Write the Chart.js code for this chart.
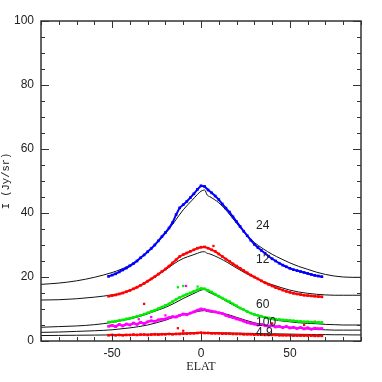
<!DOCTYPE html>
<html lang="en">
<head>
<meta charset="UTF-8">
<title>ELAT profiles</title>
<script src="https://cdn.jsdelivr.net/npm/chart.js@4"></script>
<style>
    html, body { margin: 0; padding: 0; background: #fff; }
    #wrap { width: 382px; height: 382px; }
</style>
</head>
<body>
<div id="wrap"><canvas id="chart"></canvas></div>
<script>
    // observed profiles, 2 deg bins in ecliptic latitude
    const obsElat = [-52,-50,-48,-46,-44,-42,-40,-38,-36,-34,-32,-30,-28,-26,-24,-22,-20,-18,-16,-14,-12,-10,-8,-6,-4,-2,
                     0,2,4,6,8,10,12,14,16,18,20,22,24,26,28,30,32,34,36,38,40,42,44,46,48,50,52,54,56,58,60,62,64,66,68];
    const obs24 = [20.2,20.6,21.0,21.6,22.2,22.8,23.5,24.2,25.0,26.0,26.9,27.9,28.9,30.0,31.3,32.6,33.9,35.3,37.0,39.5,41.6,42.6,43.6,44.8,46.0,47.4,
                   48.5,48.3,47.2,46.3,45.3,44.2,42.8,41.5,40.3,38.8,37.3,35.8,34.3,32.9,31.5,30.2,29.2,28.3,27.4,26.5,25.7,25.0,24.3,23.7,23.2,22.7,22.3,22.0,21.7,21.4,21.1,20.8,20.5,20.3,20.1];
    const obs12 = [14.0,14.2,14.4,14.7,15.0,15.4,15.8,16.3,16.8,17.4,18.0,18.7,19.4,20.1,20.9,21.7,22.5,23.4,24.4,25.4,26.4,27.0,27.5,28.0,28.5,29.0,
                   29.3,29.4,29.0,28.5,28.0,27.2,26.4,25.6,24.9,24.1,23.4,22.7,22.0,21.3,20.6,20.0,19.4,18.8,18.2,17.7,17.2,16.7,16.3,15.9,15.5,15.2,14.9,14.7,14.5,14.3,14.2,14.1,14.0,13.9,13.8];
    const obs60 = [5.9,6.0,6.2,6.4,6.6,6.9,7.1,7.4,7.7,8.0,8.4,8.8,9.2,9.6,10.1,10.6,11.1,11.6,12.3,13.0,13.6,14.1,14.6,15.0,15.5,16.0,
                   16.4,16.3,15.8,15.3,14.6,14.0,13.4,12.8,12.3,11.6,11.0,10.3,9.8,9.2,8.7,8.3,8.0,7.7,7.4,7.2,7.0,6.8,6.7,6.6,6.5,6.4,6.3,6.2,6.1,6.0,6.0,5.9,5.9,5.8,5.8];
    const obs100 = [4.6,4.9,4.5,5.2,4.7,5.3,5.0,5.6,5.2,5.8,5.4,6.0,6.3,6.1,6.6,6.8,6.9,7.3,7.6,7.5,8.0,8.4,8.2,8.7,9.1,9.6,
                    10.0,9.8,9.5,9.3,9.1,8.8,8.6,8.0,7.6,7.3,6.9,6.6,6.2,5.8,5.5,5.3,5.0,5.2,4.8,4.6,4.9,4.4,4.6,4.2,4.5,4.1,4.3,3.9,4.2,3.8,4.1,3.7,4.0,3.8,3.9];
    const obs49 = [1.8,1.9,1.8,1.9,1.8,1.9,1.9,2.0,1.9,2.0,2.0,1.9,2.0,2.1,2.0,2.1,2.1,2.2,2.1,2.2,2.2,2.3,2.3,2.4,2.4,2.5,
                   2.6,2.5,2.5,2.4,2.4,2.4,2.3,2.3,2.3,2.2,2.2,2.2,2.1,2.1,2.1,2.0,2.0,2.0,1.9,1.9,1.9,1.9,1.8,1.8,1.8,1.8,1.7,1.7,1.7,1.7,1.7,1.7,1.6,1.6,1.6];

    // stray points off the bands
    const strayRedElat = [-48,-32,-13,7,40,64,-10,58];
    const strayRedI = [4.5,11.6,4.0,29.7,5.5,6.0,3.2,5.0];
    const strayMagElat = [-8.4,-35,-28,-20];
    const strayMagI = [17.2,6.8,7.5,8.0];
    const strayGreenElat = [-13,-10,-1.9];
    const strayGreenI = [16.8,17.2,17.0];

    // model curves
    const modelElat = [-90,-80,-70,-60,-50,-45,-40,-35,-30,-25,-20,-15,-10,-5,-2,0,2,3.5,5,10,15,20,25,30,35,40,45,50,55,60,65,70,75,80,85,90];
    const model24 = [17.7,18.1,18.8,19.9,21.4,22.4,23.7,25.6,27.8,30.5,33.6,37.2,41.0,44.0,45.8,46.8,47.2,45.6,45.1,43.2,40.3,36.8,33.5,30.8,28.8,27.1,25.7,24.4,23.3,22.4,21.5,20.8,20.3,20.0,19.9,19.9];
    const model12 = [12.8,12.9,13.2,13.7,14.4,14.9,15.8,17.0,18.5,20.3,22.2,24.2,25.8,26.8,27.4,27.8,27.9,27.4,27.2,26.0,24.5,22.8,21.2,19.8,18.6,17.6,16.7,15.9,15.3,14.9,14.6,14.4,14.3,14.3,14.3,14.3];
    const model60 = [4.3,4.5,4.7,5.1,5.8,6.3,6.9,7.6,8.5,9.5,10.5,11.8,13.3,14.6,15.4,15.9,16.1,15.5,15.1,13.8,12.2,10.7,9.4,8.3,7.4,6.7,6.3,6.0,5.7,5.5,5.4,5.2,5.1,5.0,5.0,5.0];
    const model100 = [2.7,2.8,3.0,3.2,3.5,3.8,4.1,4.5,5.0,5.7,6.5,7.5,8.3,8.8,9.2,9.4,9.5,9.2,9.1,8.8,8.3,7.4,6.5,5.7,5.1,4.7,4.4,4.2,4.0,3.8,3.6,3.5,3.4,3.4,3.4,3.4];
    const model49 = [1.7,1.75,1.8,1.85,1.9,1.95,2.0,2.05,2.1,2.2,2.25,2.35,2.45,2.55,2.6,2.65,2.65,2.6,2.6,2.55,2.5,2.45,2.4,2.35,2.3,2.25,2.2,2.15,2.1,2.05,2.0,2.0,1.95,1.95,1.9,1.9];

    const bandNames = ['24', '12', '60', '100', '4.9'];
    const bandNameElat = [31, 31, 31, 31, 31];
    const bandNameI = [36.0, 25.3, 11.3, 5.7, 2.6];

    const xTicks = [-50, 0, 50];
    const yTicks = [0, 20, 40, 60, 80, 100];

    const pts = (xs, ys) => xs.map((x, i) => ({ x: x, y: ys[i] }));

    // in chart.js the dataset with the higher order is painted later
    function band(data, color, width) {
        return {
            data: pts(obsElat, data),
            showLine: true,
            borderColor: color,
            borderWidth: width,
            backgroundColor: color,
            pointStyle: 'rect',
            pointRadius: 1.9,
            pointBorderWidth: 0,
            order: 1
        };
    }
    function stray(xs, ys, color) {
        return {
            data: pts(xs, ys),
            showLine: false,
            backgroundColor: color,
            pointStyle: 'rect',
            pointRadius: 1.6,
            pointBorderWidth: 0,
            order: 1
        };
    }
    function model(data) {
        return {
            data: pts(modelElat, data),
            showLine: true,
            borderColor: '#111',
            borderWidth: 1,
            pointRadius: 0,
            cubicInterpolationMode: 'monotone',
            order: 2
        };
    }

    // inward ticks on all four sides plus the frame
    const frameTicks = {
        id: 'frameTicks',
        afterDatasetsDraw(chart) {
            const { ctx, chartArea: a, scales: { x, y } } = chart;
            ctx.save();
            ctx.strokeStyle = '#333';
            ctx.lineWidth = 1;
            ctx.beginPath();
            for (let v = -90; v <= 90; v += 10) {
                const px = Math.round(x.getPixelForValue(v)) + 0.5;
                const len = v % 50 === 0 ? 7 : 4;
                ctx.moveTo(px, a.bottom); ctx.lineTo(px, a.bottom - len);
                ctx.moveTo(px, a.top); ctx.lineTo(px, a.top + len);
            }
            for (let v = 0; v <= 100; v += 5) {
                const py = Math.round(y.getPixelForValue(v)) + 0.5;
                const len = v % 20 === 0 ? 8 : 4;
                ctx.moveTo(a.left, py); ctx.lineTo(a.left + len, py);
                ctx.moveTo(a.right, py); ctx.lineTo(a.right - len, py);
            }
            ctx.stroke();
            ctx.lineWidth = 1.5;
            ctx.strokeRect(a.left, a.top, a.right - a.left, a.bottom - a.top);

            ctx.fillStyle = '#222';
            ctx.font = '12px "Liberation Sans", sans-serif';
            ctx.textAlign = 'left';
            ctx.textBaseline = 'middle';
            bandNames.forEach((t, i) => {
                ctx.fillText(t, x.getPixelForValue(bandNameElat[i]), y.getPixelForValue(bandNameI[i]));
            });
            ctx.restore();
        }
    };

    new Chart(document.getElementById('chart'), {
        type: 'scatter',
        data: {
            datasets: [
                model(model24), model(model12), model(model60), model(model100), model(model49),
                band(obs24, '#0000ff', 2),
                band(obs12, '#ff0000', 2),
                band(obs60, '#00ee00', 2),
                band(obs100, '#ff00ff', 2.5),
                band(obs49, '#ff0000', 1.8),
                stray(strayRedElat, strayRedI, '#ff0000'),
                stray(strayMagElat, strayMagI, '#ff00ff'),
                stray(strayGreenElat, strayGreenI, '#00ee00')
            ]
        },
        options: {
            responsive: true,
            maintainAspectRatio: false,
            animation: false,
            layout: { padding: { top: 21, right: 21, left: 0, bottom: 0 } },
            plugins: { legend: { display: false }, tooltip: { enabled: false } },
            scales: {
                x: {
                    type: 'linear',
                    min: -90,
                    max: 90,
                    afterBuildTicks: s => { s.ticks = xTicks.map(v => ({ value: v })); },
                    afterFit: s => { s.height = 41; },
                    grid: { display: false, drawTicks: false },
                    border: { display: false },
                    ticks: { color: '#222', padding: 5, font: { family: '"Liberation Sans", sans-serif', size: 12 } },
                    title: {
                        display: true,
                        text: 'ELAT',
                        color: '#222',
                        padding: { top: 0, bottom: 8 },
                        font: { family: '"Liberation Serif", serif', size: 12 }
                    }
                },
                y: {
                    type: 'linear',
                    min: 0,
                    max: 100,
                    afterBuildTicks: s => { s.ticks = yTicks.map(v => ({ value: v })); },
                    afterFit: s => { s.width = 41; },
                    grid: { display: false, drawTicks: false },
                    border: { display: false },
                    ticks: { color: '#222', padding: 7, font: { family: '"Liberation Sans", sans-serif', size: 12 } },
                    title: {
                        display: true,
                        text: 'I (Jy/sr)',
                        color: '#222',
                        padding: { top: 0, bottom: 0 },
                        font: { family: '"Liberation Mono", monospace', size: 10.5 }
                    }
                }
            }
        },
        plugins: [frameTicks]
    });
</script>
</body>
</html>
